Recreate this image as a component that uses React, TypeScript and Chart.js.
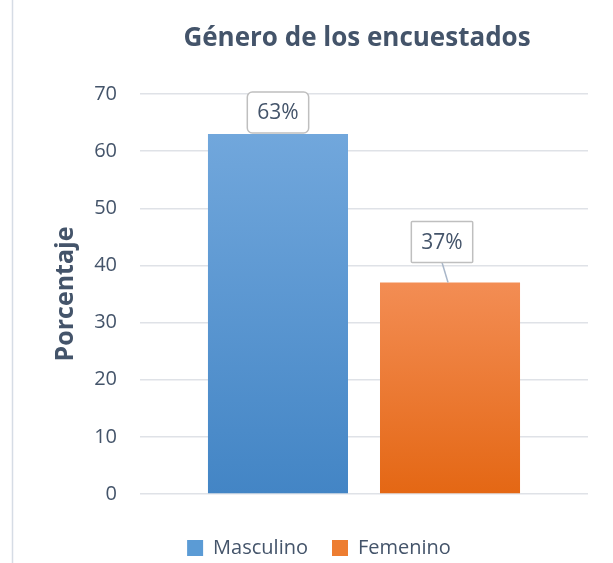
import React, { useEffect, useRef } from 'react';
import { Chart, registerables } from 'chart.js';

Chart.register(...registerables);

const categories = [''];
const seriesNames = ['Masculino', 'Femenino'];
const masculinoValues = [63];
const femeninoValues = [37];
const dataLabels = ['63%', '37%'];
const yMin = 0;
const yMax = 70;
const yStep = 10;
const chartTitle = 'Género de los encuestados';
const yTitle = 'Porcentaje';

const TEXT = '#44546a';
const FONT = '"Open Sans", Lato, sans-serif';

const gradients: [string, string][] = [
  ['#71a7dc', '#4385c5'],
  ['#f38d54', '#e46714'],
];
const solidColors = ['#5b9bd5', '#ed7d31'];

function barGradient(i: number) {
  return (ctx: any) => {
    const chart = ctx.chart;
    const area = chart.chartArea;
    const y = chart.scales && chart.scales.y;
    if (!area || !y || ctx.raw === undefined) return solidColors[i];
    const top = y.getPixelForValue(ctx.raw);
    const g = chart.ctx.createLinearGradient(0, top, 0, area.bottom);
    g.addColorStop(0, gradients[i][0]);
    g.addColorStop(1, gradients[i][1]);
    return g;
  };
}

const framePlugin = {
  id: 'frame',
  beforeDraw(chart: any) {
    const c = chart.ctx;
    c.save();
    c.fillStyle = '#ffffff';
    c.fillRect(0, 0, chart.width, chart.height);
    c.strokeStyle = '#d6dce5';
    c.lineWidth = 1.5;
    c.beginPath();
    c.moveTo(12.5, 0);
    c.lineTo(12.5, chart.height);
    c.stroke();
    c.restore();
  },
};

const titlePlugin = {
  id: 'customTitle',
  afterDraw(chart: any, _a: any, opts: any) {
    const c = chart.ctx;
    c.save();
    c.font = `bold ${opts.size}px ${FONT}`;
    c.fillStyle = TEXT;
    c.textAlign = 'center';
    c.textBaseline = 'middle';
    c.fillText(opts.text, opts.x, opts.y);
    c.restore();
  },
};

const legendShiftPlugin = {
  id: 'legendShift',
  afterLayout(chart: any, _a: any, opts: any) {
    const lg = chart.legend;
    if (!lg) return;
    const lab = lg.options.labels;
    const size = lab.font.size;
    const itemH = Math.max(size, lab.boxHeight);
    const h = lg.height;
    lg.top = opts.itemCenterY - lab.padding - itemH / 2;
    lg.bottom = lg.top + h;
    lg.left += opts.dx;
    lg.right += opts.dx;
  },
};

const boxLabelPlugin = {
  id: 'boxLabels',
  afterDatasetsDraw(chart: any, _a: any, opts: any) {
    const c = chart.ctx;
    chart.data.datasets.forEach((_ds: any, i: number) => {
      const meta = chart.getDatasetMeta(i);
      const el = meta.data[0];
      if (!el) return;
      const text = dataLabels[i];
      c.save();
      c.font = `${opts.size}px ${FONT}`;
      const tw = c.measureText(text).width;
      const w = tw + 20;
      const h = 41;
      const cx = el.x + opts.dx[i];
      const bottom = el.y - opts.gap[i];
      const top = bottom - h;
      if (opts.gap[i] > 3) {
        c.strokeStyle = '#a9b7c9';
        c.lineWidth = 1.5;
        c.beginPath();
        c.moveTo(cx, bottom);
        c.lineTo(el.x - 2, el.y);
        c.stroke();
      }
      c.fillStyle = '#ffffff';
      c.strokeStyle = '#bfbfbf';
      c.lineWidth = 1.5;
      c.beginPath();
      (c as any).roundRect(cx - w / 2, top, w, h, opts.radius[i]);
      c.fill();
      c.stroke();
      c.fillStyle = TEXT;
      c.textAlign = 'center';
      c.textBaseline = 'middle';
      c.fillText(text, cx, top + h / 2 + 1);
      c.restore();
    });
  },
};

export default function App() {
  const ref = useRef<HTMLCanvasElement | null>(null);

  useEffect(() => {
    if (!ref.current) return;
    const chart = new Chart(ref.current, {
      type: 'bar',
      data: {
        labels: categories,
        datasets: [
          {
            label: seriesNames[0],
            data: masculinoValues,
            backgroundColor: barGradient(0),
            categoryPercentage: 0.768,
            barPercentage: 0.814,
          },
          {
            label: seriesNames[1],
            data: femeninoValues,
            backgroundColor: barGradient(1),
            categoryPercentage: 0.768,
            barPercentage: 0.814,
          },
        ],
      },
      options: {
        responsive: false,
        animation: false,
        layout: { padding: { left: 0, right: 25, top: 94, bottom: 0 } },
        scales: {
          x: {
            ticks: { display: false },
            grid: { display: false },
            border: { display: false },
            afterFit: (s: any) => {
              s.height = 15;
            },
          },
          y: {
            min: yMin,
            max: yMax,
            ticks: {
              stepSize: yStep,
              padding: 23,
              color: TEXT,
              font: { family: FONT, size: 20 },
            },
            grid: { color: '#dfe2e7', lineWidth: 1.5, drawTicks: false },
            border: { display: false },
            title: {
              display: true,
              text: yTitle,
              color: TEXT,
              font: { family: FONT, size: 25, weight: 'bold' },
              padding: { top: 51, bottom: 0 },
            },
            afterFit: (s: any) => {
              s.width = 140;
            },
          },
        },
        plugins: {
          title: { display: false },
          tooltip: { enabled: false },
          legend: {
            position: 'bottom',
            labels: {
              boxWidth: 16,
              boxHeight: 16,
              padding: 24,
              color: TEXT,
              font: { family: FONT, size: 20 },
              generateLabels: (ch: any) =>
                ch.data.datasets.map((ds: any, i: number) => ({
                  text: ds.label,
                  fillStyle: solidColors[i],
                  strokeStyle: solidColors[i],
                  lineWidth: 0,
                  fontColor: TEXT,
                  hidden: false,
                  datasetIndex: i,
                })),
            },
          },
          customTitle: { text: chartTitle, x: 357, y: 39, size: 26 },
          legendShift: { dx: 25, itemCenterY: 548 },
          boxLabels: { size: 21, dx: [0, -8], gap: [1, 20], radius: [5, 1] },
        } as any,
      },
      plugins: [framePlugin, titlePlugin, legendShiftPlugin, boxLabelPlugin],
    });
    return () => chart.destroy();
  }, []);

  return (
    <div style={{ position: 'absolute', left: 0, top: 0, width: 613, height: 563 }}>
      <canvas ref={ref} width={613} height={563} style={{ display: 'block', width: 613, height: 563 }} />
    </div>
  );
}
